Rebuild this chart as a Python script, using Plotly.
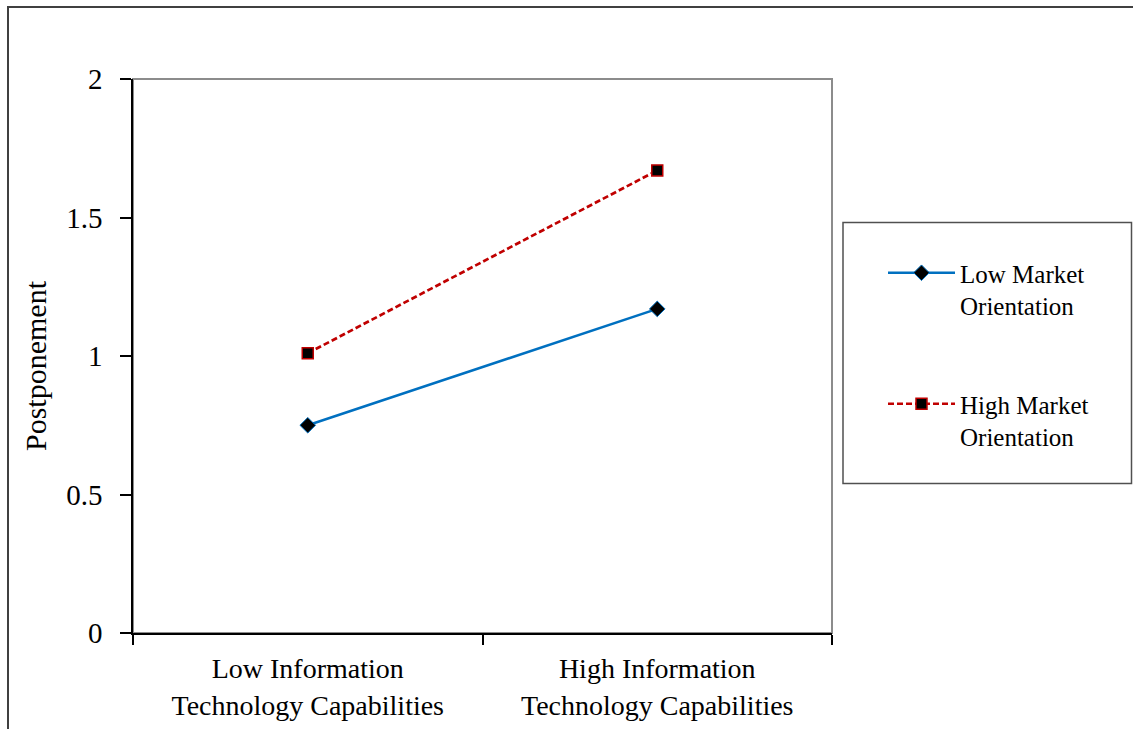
import plotly.graph_objects as go

categories = ["Low Information<br>Technology Capabilities", "High Information<br>Technology Capabilities"]
low_mo = [0.75, 1.17]
high_mo = [1.01, 1.67]
series_names = ["Low Market<br>Orientation", "High Market<br>Orientation"]
y_ticks = [0, 0.5, 1, 1.5, 2]
y_tick_labels = ["0", "0.5", "1", "1.5", "2"]

W, H = 1133, 729
L, R, T, B = 133, 832, 79, 633
pw, ph = R - L, B - T

def px(x):
    return (x - L) / pw

def py(y):
    return (B - y) / ph

FONT = "Liberation Serif"

fig = go.Figure()
fig.add_trace(go.Scatter(
    x=categories, y=low_mo, name=series_names[0], mode="lines+markers",
    line=dict(color="#0070C0", width=2.5),
    marker=dict(symbol="diamond", size=12, color="black", line=dict(color="#0070C0", width=1)),
    legendgroup="a",
))
fig.add_trace(go.Scatter(
    x=categories, y=high_mo, name=series_names[1], mode="lines+markers",
    line=dict(color="#C00000", width=2.7, dash="6px,3px"),
    marker=dict(symbol="square", size=11, color="black", line=dict(color="#C00000", width=1.5)),
    legendgroup="b",
))

fig.update_layout(
    width=W, height=H,
    margin=dict(l=L, r=W - R, t=T, b=H - B, pad=0),
    paper_bgcolor="white", plot_bgcolor="white",
    font=dict(family=FONT, size=29, color="black"),
    showlegend=True,
    legend=dict(
        x=px(883), y=py(250), xanchor="left", yanchor="top",
        bgcolor="rgba(0,0,0,0)", borderwidth=0,
        font=dict(family=FONT, size=25, color="black"),
        tracegroupgap=63, itemwidth=67, valign="top",
    ),
)
fig.update_xaxes(
    type="category", range=[-0.5, 1.5], tickson="boundaries",
    showline=True, linecolor="black", linewidth=1.5,
    ticks="outside", ticklen=10, tickcolor="black", tickwidth=1.5,
    showgrid=False, zeroline=False,
    tickfont=dict(family=FONT, size=28, color="black"),
    ticklabelstandoff=10,
    automargin=False,
)
fig.update_yaxes(
    range=[0, 2], tickvals=y_ticks, ticktext=y_tick_labels,
    showline=True, linecolor="black", linewidth=1.5,
    ticks="outside", ticklen=11, tickcolor="black", tickwidth=1.5,
    showgrid=False, zeroline=False,
    tickfont=dict(family=FONT, size=29, color="black"),
    ticklabelstandoff=12,
    automargin=False,
)

# plot area gray frame (top/right)
fig.add_shape(type="rect", xref="paper", yref="paper", x0=0, x1=1, y0=0, y1=1,
              line=dict(color="#8c8c8c", width=2), layer="below")
# outer chart border
fig.add_shape(type="rect", xref="paper", yref="paper",
              x0=px(8), x1=px(1145), y0=py(745), y1=py(7),
              line=dict(color="#404040", width=2))
# legend box
fig.add_shape(type="rect", xref="paper", yref="paper",
              x0=px(843), x1=px(1131.5), y0=py(483.5), y1=py(222.5),
              line=dict(color="#505050", width=1.5))

fig.add_annotation(text="Postponement", xref="paper", yref="paper",
                   x=px(35), y=py(366), xanchor="center", yanchor="middle",
                   textangle=-90, showarrow=False,
                   font=dict(family=FONT, size=30, color="black"))

fig.write_html("out.html", config={"displayModeBar": False},
               post_script="document.body.style.margin='0';document.body.style.overflow='hidden';")
